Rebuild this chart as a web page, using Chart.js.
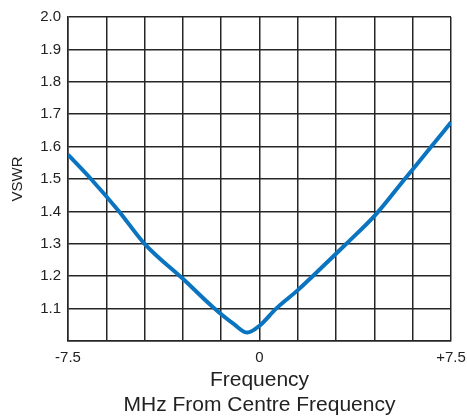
<!DOCTYPE html>
<html>
<head>
<meta charset="utf-8">
<script src="https://cdn.jsdelivr.net/npm/chart.js@4/dist/chart.umd.min.js"></script>
<style>
  html, body { margin: 0; padding: 0; background: #fff; }
  #wrap { width: 467px; height: 419px; }
</style>
</head>
<body>
<div id="wrap"><canvas id="vswrChart" width="467" height="419"></canvas></div>
<script>
// Values
const freqMHz = [-7.5, -6.6, -5.5, -4.5, -3.0, -1.83, -1.0, -0.48, 0.0, 0.65, 1.5, 2.08, 3.4, 4.55, 5.69, 6.73, 7.5];
const vswr    = [1.575, 1.5, 1.4, 1.3, 1.192, 1.105, 1.052, 1.026, 1.047, 1.1, 1.157, 1.2, 1.3, 1.39, 1.5, 1.6, 1.675];

// Tick labels (one per grid line)
const xTickLabels = ['-7.5', '', '', '', '', '0', '', '', '', '', '+7.5'];
const yTickLabels = ['', '1.1', '1.2', '1.3', '1.4', '1.5', '1.6', '1.7', '1.8', '1.9', '2.0'];

const fontFamily = '"Liberation Sans", Arial, sans-serif';
const gridColor = '#262626';

const ctx = document.getElementById('vswrChart').getContext('2d');
new Chart(ctx, {
    type: 'scatter',
    data: {
        datasets: [{
            label: 'VSWR',
            data: freqMHz.map((f, i) => ({ x: f, y: vswr[i] })),
            showLine: true,
            borderColor: '#0a74c0',
            borderWidth: 4,
            pointRadius: 0,
            cubicInterpolationMode: 'monotone',
            fill: false
        }]
    },
    options: {
        responsive: false,
        animation: false,
        devicePixelRatio: 1,
        layout: {
            padding: { top: 17, right: 16, bottom: 0, left: 0 }
        },
        plugins: {
            legend: { display: false },
            tooltip: { enabled: false }
        },
        scales: {
            x: {
                type: 'linear',
                min: -7.5,
                max: 7.5,
                afterBuildTicks: scale => {
                    scale.ticks = xTickLabels.map((_, i) => ({ value: -7.5 + i * 1.5 }));
                },
                afterFit: scale => {
                    scale.height = 78;
                    // let the +7.5 label hang into the right margin
                    scale.paddingLeft = 0;
                    scale.paddingRight = 0;
                },
                grid: { color: gridColor, lineWidth: 1.5, drawTicks: false },
                border: { color: gridColor, width: 1.5 },
                ticks: {
                    autoSkip: false,
                    maxRotation: 0,
                    padding: 8,
                    color: '#222',
                    font: { family: fontFamily, size: 15 },
                    callback: (value, index) => xTickLabels[index]
                },
                title: {
                    display: true,
                    text: ['Frequency', 'MHz From Centre Frequency'],
                    color: '#222',
                    font: { family: fontFamily, size: 21, lineHeight: 1.2 },
                    padding: { top: 0, bottom: 1 }
                }
            },
            y: {
                min: 1.0,
                max: 2.0,
                afterBuildTicks: scale => {
                    scale.ticks = yTickLabels.map((_, i) => ({ value: 1.0 + i * 0.1 }));
                },
                afterFit: scale => { scale.width = 68; },
                grid: { color: gridColor, lineWidth: 1.5, drawTicks: false },
                border: { color: gridColor, width: 1.5 },
                ticks: {
                    autoSkip: false,
                    padding: 7,
                    color: '#222',
                    font: { family: fontFamily, size: 15 },
                    callback: (value, index) => yTickLabels[index]
                },
                title: {
                    display: true,
                    text: 'VSWR',
                    color: '#222',
                    font: { family: fontFamily, size: 15, lineHeight: 1.2 },
                    padding: { top: 9, bottom: 0 }
                }
            }
        }
    }
});
</script>
</body>
</html>
